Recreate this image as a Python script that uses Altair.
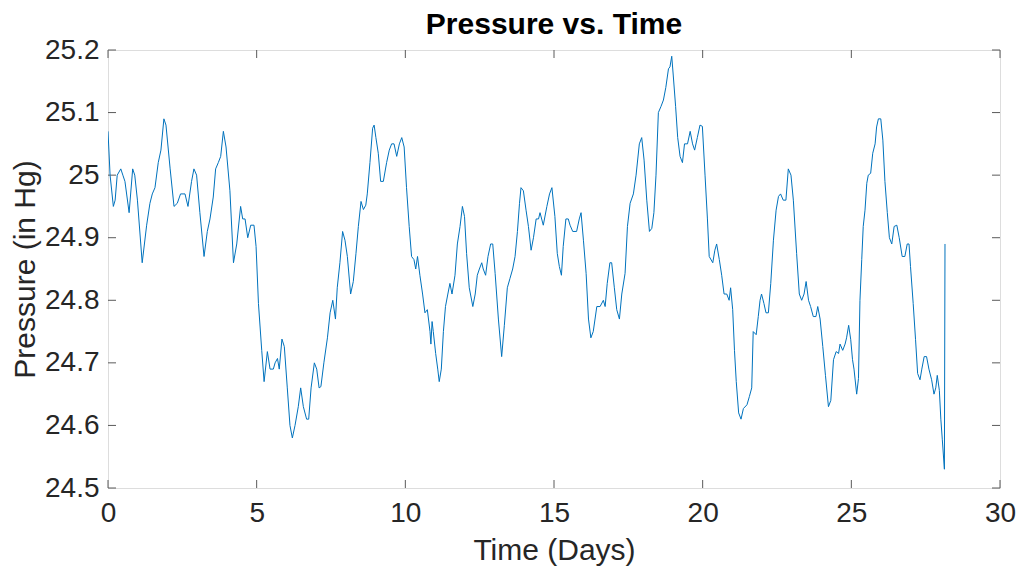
import altair as alt
import pandas as pd

days = [
    0.00, 0.07, 0.18, 0.24, 0.31, 0.43, 0.50, 0.57, 0.71, 0.83, 0.90, 0.99, 1.15, 1.30, 1.41, 1.49, 1.58, 1.69, 1.78, 1.88,
    1.95, 2.09, 2.22, 2.33, 2.44, 2.59, 2.69, 2.81, 2.89, 2.98, 3.09, 3.23, 3.34, 3.43, 3.54, 3.62, 3.71, 3.79, 3.88, 3.97,
    4.10, 4.22, 4.33, 4.46, 4.53, 4.61, 4.70, 4.80, 4.91,
    4.98, 5.06, 5.17, 5.25, 5.36, 5.45, 5.56, 5.62, 5.70, 5.76, 5.85, 5.93, 6.03, 6.12, 6.20, 6.29, 6.40, 6.48, 6.57, 6.68,
    6.75, 6.83, 6.94, 7.02, 7.10, 7.16, 7.26, 7.38, 7.47, 7.56, 7.65, 7.71, 7.80, 7.89, 7.97, 8.05, 8.16, 8.25, 8.34, 8.42,
    8.51, 8.59, 8.67, 8.72, 8.81, 8.90, 8.95, 9.01, 9.09, 9.17, 9.26, 9.37, 9.46, 9.54, 9.62, 9.71, 9.80, 9.88, 9.96,
    10.04, 10.13, 10.21, 10.29, 10.35, 10.41, 10.49, 10.58, 10.66, 10.74, 10.83, 10.86, 10.90, 10.94, 11.02, 11.09, 11.14,
    11.21, 11.28, 11.35, 11.43, 11.50, 11.57, 11.67, 11.75, 11.84, 11.92, 11.99, 12.06, 12.15, 12.27, 12.35, 12.42, 12.49,
    12.57, 12.62, 12.70, 12.78, 12.87, 12.94, 13.02, 13.13, 13.24, 13.33, 13.43, 13.52, 13.61, 13.69, 13.77, 13.84, 13.89,
    13.97, 14.06, 14.14, 14.23, 14.31, 14.40, 14.48, 14.53, 14.64, 14.76, 14.85, 14.93,
    15.03, 15.11, 15.18, 15.25, 15.31, 15.40, 15.48, 15.54, 15.63, 15.76, 15.85, 15.91, 15.99, 16.08, 16.16, 16.24, 16.32,
    16.44, 16.55, 16.66, 16.72, 16.79, 16.88, 16.94, 17.03, 17.11, 17.20, 17.28, 17.39, 17.47, 17.56, 17.67, 17.76, 17.87,
    17.95, 18.03, 18.12, 18.21, 18.29, 18.36, 18.43, 18.51, 18.60, 18.68, 18.76, 18.85, 18.90, 18.96, 19.01, 19.09, 19.16,
    19.24, 19.32, 19.39, 19.49, 19.58, 19.66, 19.73, 19.82, 19.91, 19.99,
    20.08, 20.16, 20.22, 20.34, 20.41, 20.47, 20.56, 20.64, 20.72, 20.81, 20.89, 20.94, 21.01, 21.07, 21.13, 21.21, 21.29,
    21.37, 21.49, 21.57, 21.65, 21.70, 21.80, 21.87, 21.93, 21.98, 22.06, 22.13, 22.21, 22.29, 22.38, 22.47, 22.55, 22.62,
    22.71, 22.80, 22.88, 22.97, 23.05, 23.16, 23.25, 23.33, 23.41, 23.48, 23.56, 23.63, 23.72, 23.81, 23.87, 23.95, 24.04,
    24.13, 24.23, 24.31, 24.40, 24.49, 24.57, 24.62, 24.71, 24.79, 24.84, 24.91,
    24.98, 25.04, 25.09, 25.18, 25.24, 25.29, 25.35, 25.40, 25.46, 25.52, 25.57, 25.65, 25.72, 25.80, 25.85, 25.91, 25.99,
    26.06, 26.13, 26.21, 26.28, 26.36, 26.44, 26.53, 26.61, 26.71, 26.80, 26.88, 26.94, 26.99, 27.08, 27.16, 27.23, 27.31,
    27.37, 27.45, 27.53, 27.61, 27.70, 27.78, 27.84, 27.89, 27.96, 28.01, 28.06, 28.13, 28.15,
]

pressure = [
    25.07, 25.00, 24.95, 24.96, 25.00, 25.01, 25.00, 24.99, 24.94, 25.01, 25.00, 24.96, 24.86, 24.92, 24.955, 24.97, 24.98, 25.02, 25.04, 25.09,
    25.08, 25.01, 24.95, 24.955, 24.97, 24.97, 24.95, 24.99, 25.01, 25.00, 24.94, 24.87, 24.91, 24.93, 24.965, 25.01, 25.02, 25.03, 25.07, 25.045,
    24.975, 24.86, 24.89, 24.95, 24.93, 24.93, 24.90, 24.92, 24.92,
    24.886, 24.795, 24.72, 24.67, 24.718, 24.69, 24.69, 24.70, 24.707, 24.69, 24.738, 24.726, 24.66, 24.60, 24.58, 24.60, 24.63, 24.66, 24.63, 24.61,
    24.61, 24.66, 24.70, 24.69, 24.66, 24.662, 24.70, 24.74, 24.78, 24.80, 24.77, 24.82, 24.86, 24.91, 24.896, 24.87, 24.81, 24.83, 24.875, 24.918,
    24.958, 24.945, 24.952, 24.97, 25.02, 25.075, 25.08, 25.06, 25.035, 24.99, 24.99, 25.02, 25.04, 25.05, 25.05, 25.03, 25.05, 25.06, 25.045,
    24.98, 24.918, 24.87, 24.865, 24.85, 24.87, 24.84, 24.81, 24.78, 24.785, 24.75, 24.73, 24.766, 24.75, 24.715, 24.69, 24.67,
    24.69, 24.75, 24.79, 24.81, 24.827, 24.81, 24.84, 24.89, 24.918, 24.95, 24.934, 24.875, 24.82, 24.79, 24.81, 24.84, 24.85,
    24.86, 24.85, 24.84, 24.87, 24.89, 24.89, 24.843, 24.77, 24.71, 24.76, 24.82, 24.835, 24.85, 24.87, 24.91, 24.955, 24.98,
    24.975, 24.944, 24.918, 24.88, 24.90, 24.93, 24.93, 24.94, 24.92, 24.95, 24.97, 24.98,
    24.934, 24.875, 24.854, 24.84, 24.886, 24.93, 24.93, 24.92, 24.91, 24.91, 24.93, 24.94, 24.896, 24.843, 24.77, 24.74, 24.75,
    24.79, 24.79, 24.80, 24.79, 24.827, 24.86, 24.86, 24.82, 24.785, 24.77, 24.81, 24.843, 24.918, 24.955, 24.97, 25.00, 25.05,
    25.06, 25.024, 24.96, 24.91, 24.915, 24.94, 25.00, 25.10, 25.11, 25.12, 25.14, 25.17, 25.173, 25.19, 25.16, 25.11, 25.06,
    25.03, 25.02, 25.05, 25.05, 25.07, 25.05, 25.04, 25.06, 25.08, 25.078,
    25.00, 24.93, 24.87, 24.86, 24.88, 24.89, 24.865, 24.84, 24.81, 24.81, 24.80, 24.82, 24.785, 24.72, 24.67, 24.62, 24.61,
    24.627, 24.633, 24.646, 24.66, 24.75, 24.745, 24.774, 24.80, 24.81, 24.795, 24.78, 24.78, 24.827, 24.896, 24.944, 24.966, 24.97,
    24.96, 24.96, 25.01, 25.00, 24.96, 24.875, 24.81, 24.80, 24.81, 24.83, 24.80, 24.79, 24.774, 24.774, 24.79, 24.77, 24.726,
    24.68, 24.63, 24.64, 24.705, 24.718, 24.715, 24.73, 24.72, 24.73, 24.74, 24.76,
    24.737, 24.705, 24.69, 24.65, 24.675, 24.80, 24.865, 24.918, 24.944, 24.987, 25.00, 25.003, 25.035, 25.05, 25.077, 25.09, 25.09,
    25.056, 24.99, 24.94, 24.90, 24.89, 24.918, 24.92, 24.90, 24.87, 24.87, 24.89, 24.89, 24.854, 24.795, 24.737, 24.683, 24.673,
    24.69, 24.71, 24.71, 24.69, 24.673, 24.65, 24.66, 24.68, 24.656, 24.61, 24.577, 24.53, 24.89,
]

x_ticks = [0, 5, 10, 15, 20, 25, 30]
y_ticks = [24.5, 24.6, 24.7, 24.8, 24.9, 25.0, 25.1, 25.2]

W, H = 892, 438
FONT = "Liberation Sans"
TICK_LEN = 8
TICK_COLOR = "#5a5a5a"

df = pd.DataFrame({"day": days, "p": pressure, "i": list(range(len(days)))})
xt = pd.DataFrame({"t": x_ticks})
yt = pd.DataFrame({"t": y_ticks})

xscale = alt.Scale(domain=[0, 30], nice=False, zero=False)
yscale = alt.Scale(domain=[24.5, 25.2], nice=False, zero=False)

line = alt.Chart(df).mark_line(color="#0072BD", strokeWidth=1, clip=True).encode(
    x=alt.X("day:Q", scale=xscale, title="Time (Days)",
            axis=alt.Axis(values=x_ticks, ticks=False, grid=False, domain=False,
                          labelFlush=False, labelOverlap=False,
                          labelFontSize=28, labelPadding=11, labelColor="#262626",
                          titleFontSize=30, titleFontWeight="normal", titlePadding=8,
                          titleColor="#262626", labelFont=FONT, titleFont=FONT)),
    y=alt.Y("p:Q", scale=yscale, title="Pressure (in Hg)",
            axis=alt.Axis(values=y_ticks, format="~g", ticks=False, grid=False, domain=False,
                          labelFlush=False, labelOverlap=False,
                          labelFontSize=28, labelPadding=9, labelColor="#262626",
                          titleFontSize=30, titleFontWeight="normal", titlePadding=4,
                          titleColor="#262626", labelFont=FONT, titleFont=FONT)),
    order="i:Q",
)

bx = alt.Chart(xt).mark_rule(color=TICK_COLOR, strokeWidth=1).encode(
    x=alt.X("t:Q", scale=xscale), y=alt.value(H), y2=alt.value(H - TICK_LEN))
tx = alt.Chart(xt).mark_rule(color=TICK_COLOR, strokeWidth=1).encode(
    x=alt.X("t:Q", scale=xscale), y=alt.value(0), y2=alt.value(TICK_LEN))
ly = alt.Chart(yt).mark_rule(color=TICK_COLOR, strokeWidth=1).encode(
    y=alt.Y("t:Q", scale=yscale), x=alt.value(0), x2=alt.value(TICK_LEN))
ry = alt.Chart(yt).mark_rule(color=TICK_COLOR, strokeWidth=1).encode(
    y=alt.Y("t:Q", scale=yscale), x=alt.value(W), x2=alt.value(W - TICK_LEN))

chart = alt.layer(bx, tx, ly, ry, line).properties(
    width=W, height=H,
    title=alt.TitleParams("Pressure vs. Time", fontSize=30, fontWeight="bold", font=FONT,
                          color="#000000", anchor="middle", offset=-4),
    autosize=alt.AutoSizeParams(type="none"),
    padding={"left": 108, "top": 50, "right": 24, "bottom": 83},
).configure_view(stroke="#808080", strokeWidth=1).configure(background="white")

chart.save("out.html", embed_options={"renderer": "svg", "actions": False})
